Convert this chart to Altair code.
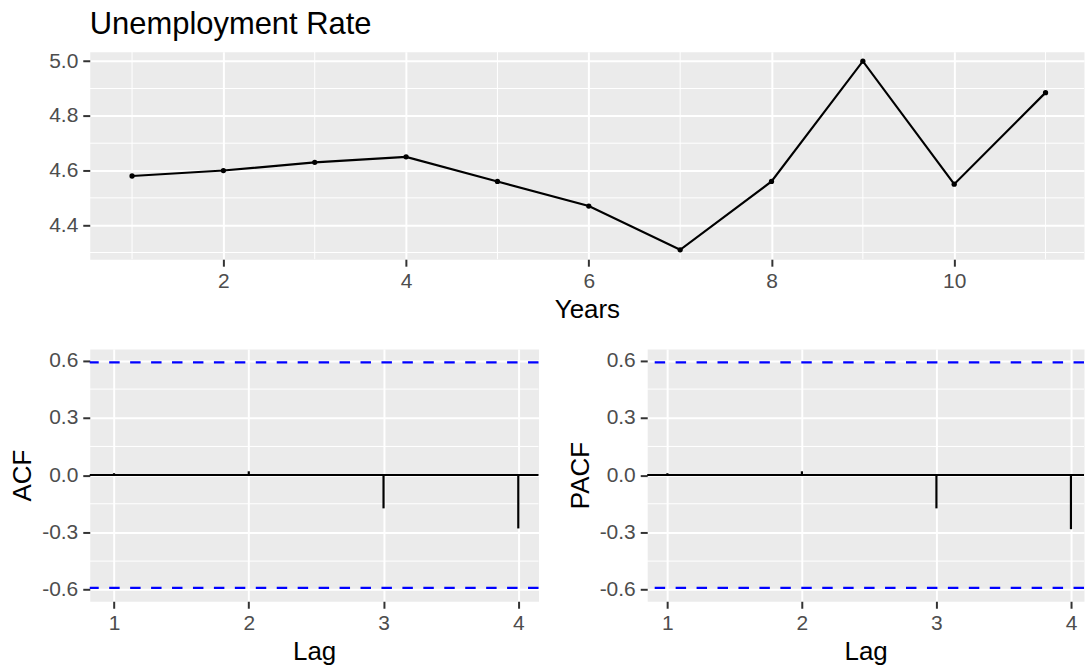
import altair as alt
import pandas as pd

FONT = "Liberation Sans"

# Unemployment rate by year
years = [1, 2, 3, 4, 5, 6, 7, 8, 9, 10, 11]
rates = [4.58, 4.60, 4.63, 4.65, 4.56, 4.47, 4.31, 4.56, 5.00, 4.55, 4.885]

# Autocorrelation and partial autocorrelation by lag
lags = [1, 2, 3, 4]
acf_vals = [0.01, 0.02, -0.174, -0.279]
pacf_vals = [0.01, 0.02, -0.174, -0.283]
ci = 0.59  # 1.96 / sqrt(n)

# Axis breaks
year_ticks = [2, 4, 6, 8, 10]
year_minor = [1, 3, 5, 7, 9, 11]
rate_ticks = [4.4, 4.6, 4.8, 5.0]
rate_minor = [4.3, 4.5, 4.7, 4.9]
lag_ticks = [1, 2, 3, 4]
corr_ticks = [-0.6, -0.3, 0.0, 0.3, 0.6]
corr_minor = [-0.45, -0.15, 0.15, 0.45]

LW = 2
DATA_LW = 2.2
signed_label = "datum.value < 0 ? '-' + format(-datum.value, '.1f') : format(datum.value, '.1f')"

# ---- top panel: time series ----
x_top = alt.Scale(domain=[0.537, 11.421], nice=False, zero=False)
y_top = alt.Scale(domain=[4.2755, 5.0345], nice=False, zero=False)
series = pd.DataFrame({"year": years, "rate": rates})

top_minor_x = alt.Chart(pd.DataFrame({"year": year_minor})).mark_rule(
    color="white", strokeWidth=1
).encode(x=alt.X("year:Q", scale=x_top))
top_minor_y = alt.Chart(pd.DataFrame({"rate": rate_minor})).mark_rule(
    color="white", strokeWidth=1
).encode(y=alt.Y("rate:Q", scale=y_top))

x_enc = alt.X("year:Q", scale=x_top,
              axis=alt.Axis(values=year_ticks, title="Years", format="d"))
y_enc = alt.Y("rate:Q", scale=y_top,
              axis=alt.Axis(values=rate_ticks, title=None, format=".1f"))

line = alt.Chart(series).mark_line(color="black", strokeWidth=DATA_LW).encode(x=x_enc, y=y_enc)
dots = alt.Chart(series).mark_circle(color="black", size=28, opacity=1).encode(x=x_enc, y=y_enc)

top = alt.layer(top_minor_x, top_minor_y, line, dots).properties(
    width=997,
    height=208,
    title=alt.TitleParams(
        "Unemployment Rate", anchor="start", frame="group", fontSize=31,
        font=FONT, fontWeight="normal", color="black", offset=9,
    ),
)


# ---- bottom panels: correlograms ----
def correlogram(values, label, x_domain, width):
    xs = alt.Scale(domain=x_domain, nice=False, zero=False)
    ys = alt.Scale(domain=[-0.66, 0.66], nice=False, zero=False)
    df = pd.DataFrame({"lag": lags, "value": values})

    minor = alt.Chart(pd.DataFrame({"value": corr_minor})).mark_rule(
        color="white", strokeWidth=1
    ).encode(y=alt.Y("value:Q", scale=ys))
    zero_line = alt.Chart(pd.DataFrame({"value": [0]})).mark_rule(
        color="black", strokeWidth=LW
    ).encode(y=alt.Y("value:Q", scale=ys))
    bands = alt.Chart(pd.DataFrame({"value": [ci, -ci]})).mark_rule(
        color="#0000FF", strokeWidth=DATA_LW, strokeDash=[10.5, 10.5]
    ).encode(y=alt.Y("value:Q", scale=ys))
    spikes = alt.Chart(df).mark_rule(color="black", strokeWidth=DATA_LW).encode(
        x=alt.X("lag:Q", scale=xs,
                axis=alt.Axis(values=lag_ticks, title="Lag", format="d")),
        y=alt.Y("value:Q", scale=ys,
                axis=alt.Axis(values=corr_ticks, title=label, labelExpr=signed_label)),
        y2=alt.datum(0),
    )
    return alt.layer(minor, zero_line, spikes, bands).properties(width=width, height=253)


acf_panel = correlogram(acf_vals, "ACF", [0.82, 4.15], 450)
pacf_panel = correlogram(pacf_vals, "PACF", [0.85, 4.097], 438)

bottom = alt.hconcat(acf_panel, pacf_panel, spacing=109, bounds="flush")

chart = (
    alt.vconcat(top, bottom, spacing=90, bounds="flush")
    .properties(padding={"left": 9, "top": 7, "right": 0, "bottom": 0})
    .configure_axis(
        domain=False,
        grid=True,
        gridColor="white",
        gridWidth=LW,
        tickColor="#333333",
        tickWidth=LW,
        tickSize=7,
        labelFont=FONT,
        labelFontSize=21,
        labelColor="#4D4D4D",
        labelPadding=4,
        labelFlush=False,
        labelOverlap=False,
        titleFont=FONT,
        titleFontSize=26,
        titleColor="black",
        titleFontWeight="normal",
        titlePadding=5,
    )
    .configure_axisY(labelPadding=5, titlePadding=6)
    .configure_view(fill="#EBEBEB", stroke="transparent")
)

chart.save("out.html", embed_options={"renderer": "svg", "actions": False})
